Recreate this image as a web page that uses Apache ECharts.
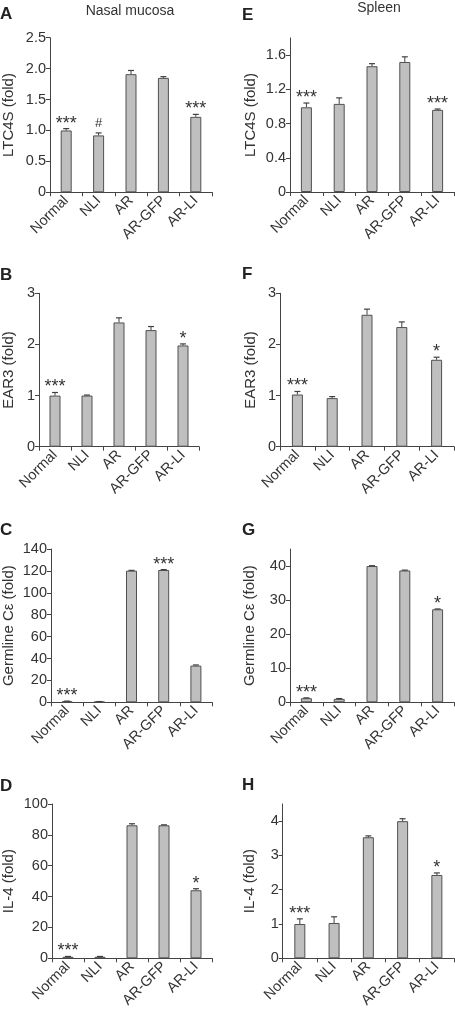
<!DOCTYPE html>
<html>
<head>
<meta charset="utf-8">
<script src="https://cdn.jsdelivr.net/npm/echarts@6/dist/echarts.min.js"></script>
<style>
html,body{margin:0;padding:0;background:#fff;}
#chart{width:455px;height:1011px;}
</style>
</head>
<body>
<div id="chart"></div>
<script>
// ---- data ----
const categories = ['Normal', 'NLI', 'AR', 'AR-GFP', 'AR-LI'];

// A: LTC4S, nasal mucosa
const ltc4sNasal = [1.00, 0.92, 1.91, 1.85, 1.22];
const ltc4sNasalErr = [0.03, 0.04, 0.06, 0.02, 0.04];
const ltc4sNasalSig = ['***', '#', '', '', '***'];
const ltc4sNasalTicks = [0, 0.5, 1.0, 1.5, 2.0, 2.5];

// E: LTC4S, spleen
const ltc4sSpleen = [0.99, 1.03, 1.47, 1.52, 0.96];
const ltc4sSpleenErr = [0.05, 0.07, 0.03, 0.06, 0.01];
const ltc4sSpleenSig = ['***', '', '', '', '***'];
const ltc4sSpleenTicks = [0, 0.4, 0.8, 1.2, 1.6];

// B: EAR3, nasal mucosa
const ear3Nasal = [1.00, 1.00, 2.43, 2.28, 1.98];
const ear3NasalErr = [0.06, 0.01, 0.09, 0.07, 0.03];
const ear3NasalSig = ['***', '', '', '', '*'];
const ear3NasalTicks = [0, 1, 2, 3];

// F: EAR3, spleen
const ear3Spleen = [1.02, 0.95, 2.58, 2.34, 1.70];
const ear3SpleenErr = [0.06, 0.03, 0.11, 0.10, 0.05];
const ear3SpleenSig = ['***', '', '', '', '*'];
const ear3SpleenTicks = [0, 1, 2, 3];

// C: Germline Cε, nasal mucosa
const germNasal = [0.8, 0.5, 120.2, 120.8, 33.5];
const germNasalErr = [0.3, 0.2, 0.3, 0.4, 0.6];
const germNasalSig = ['***', '', '', '***', ''];
const germNasalTicks = [0, 20, 40, 60, 80, 100, 120, 140];

// G: Germline Cε, spleen
const germSpleen = [1.2, 1.0, 40.0, 38.7, 27.3];
const germSpleenErr = [0.1, 0.1, 0.1, 0.1, 0.1];
const germSpleenSig = ['***', '', '', '', '*'];
const germSpleenTicks = [0, 10, 20, 30, 40];

// D: IL-4, nasal mucosa
const il4Nasal = [1.0, 1.0, 86.2, 86.2, 44.1];
const il4NasalErr = [0.2, 0.2, 1.0, 0.3, 1.0];
const il4NasalSig = ['***', '', '', '', '*'];
const il4NasalTicks = [0, 20, 40, 60, 80, 100];

// H: IL-4, spleen
const il4Spleen = [1.00, 1.03, 3.53, 4.00, 2.43];
const il4SpleenErr = [0.15, 0.18, 0.04, 0.07, 0.06];
const il4SpleenSig = ['***', '', '', '', '*'];
const il4SpleenTicks = [0, 1, 2, 3, 4];

// ---- layout ----
const FONT = '"Liberation Sans", Arial, Helvetica, sans-serif';
const TXT = '#333';
const AX = '#444';

const panels = [
  {letter: 'A', vals: ltc4sNasal, err: ltc4sNasalErr, sig: ltc4sNasalSig, ticks: ltc4sNasalTicks, max: 2.5, name: 'LTC4S (fold)', gap: 34, fmt: v => v === 0 ? '0' : v.toFixed(1),
   grid: {left: 50, top: 37.7, width: 162, height: 154.6}, lx: 0, ly: 16},
  {letter: 'E', vals: ltc4sSpleen, err: ltc4sSpleenErr, sig: ltc4sSpleenSig, ticks: ltc4sSpleenTicks, max: 1.8, name: 'LTC4S (fold)', gap: 32, fmt: v => v === 0 ? '0' : v.toFixed(1),
   grid: {left: 290, top: 38, width: 164, height: 154}, lx: 242, ly: 17},
  {letter: 'B', vals: ear3Nasal, err: ear3NasalErr, sig: ear3NasalSig, ticks: ear3NasalTicks, max: 3, name: 'EAR3 (fold)', gap: 23, fmt: v => String(v),
   grid: {left: 38, top: 293.3, width: 161, height: 153.4}, lx: 0, ly: 277},
  {letter: 'F', vals: ear3Spleen, err: ear3SpleenErr, sig: ear3SpleenSig, ticks: ear3SpleenTicks, max: 3, name: 'EAR3 (fold)', gap: 22, fmt: v => String(v),
   grid: {left: 280, top: 293.3, width: 174, height: 153.4}, lx: 242, ly: 276},
  {letter: 'C', vals: germNasal, err: germNasalErr, sig: germNasalSig, ticks: germNasalTicks, max: 140, name: 'Germline C\u03b5 (fold)', gap: 35, fmt: v => String(v),
   grid: {left: 50, top: 549, width: 162, height: 153.3}, lx: 0, ly: 532},
  {letter: 'G', vals: germSpleen, err: germSpleenErr, sig: germSpleenSig, ticks: germSpleenTicks, max: 45, name: 'Germline C\u03b5 (fold)', gap: 33, fmt: v => String(v),
   grid: {left: 290, top: 549, width: 164, height: 153.3}, lx: 242, ly: 531.5},
  {letter: 'D', vals: il4Nasal, err: il4NasalErr, sig: il4NasalSig, ticks: il4NasalTicks, max: 100, name: 'IL-4 (fold)', gap: 36, fmt: v => String(v),
   grid: {left: 50, top: 804, width: 162, height: 154.3}, lx: 0, ly: 787.5},
  {letter: 'H', vals: il4Spleen, err: il4SpleenErr, sig: il4SpleenSig, ticks: il4SpleenTicks, max: 4.5, name: 'IL-4 (fold)', gap: 25, fmt: v => String(v),
   grid: {left: 282.7, top: 804, width: 171.3, height: 154.3}, lx: 242, ly: 786.7}
];

const grids = [], xAxes = [], yAxes = [], series = [], graphics = [];

panels.forEach((p, i) => {
  grids.push(Object.assign({containLabel: false}, p.grid));
  xAxes.push({
    type: 'category', gridIndex: i, data: categories,
    axisLine: {lineStyle: {color: AX, width: 1}},
    axisTick: {show: true, length: 4, alignWithLabel: false, lineStyle: {color: AX}},
    axisLabel: {rotate: 45, interval: 0, margin: 6, fontSize: 14.5, color: TXT, fontFamily: FONT}
  });
  yAxes.push({
    type: 'value', gridIndex: i, min: 0, max: p.max,
    splitLine: {show: false},
    axisLine: {show: true, lineStyle: {color: AX, width: 1}},
    axisTick: {show: true, length: 4, lineStyle: {color: AX}, customValues: p.ticks},
    axisLabel: {fontSize: 14.5, color: TXT, fontFamily: FONT, margin: 4, customValues: p.ticks, formatter: p.fmt},
    name: p.name, nameLocation: 'middle', nameGap: p.gap, nameRotate: 90,
    nameTextStyle: {fontSize: 15, color: TXT, fontFamily: FONT}
  });
  series.push({
    type: 'bar', xAxisIndex: i, yAxisIndex: i, data: p.vals, barWidth: 11,
    itemStyle: {color: '#bfbfbf', borderColor: '#505050', borderWidth: 1},
    silent: true, z: 2
  });
  const sig = p.sig;
  series.push({
    type: 'custom', xAxisIndex: i, yAxisIndex: i,
    data: p.vals.map((v, k) => [k, v, p.err[k]]),
    z: 3, silent: true, clip: false,
    renderItem: function (params, api) {
      const x = api.value(0), v = api.value(1), e = api.value(2);
      const base = api.coord([x, v]);
      const top = api.coord([x, v + e]);
      const children = [
        {type: 'line', shape: {x1: base[0], y1: base[1], x2: top[0], y2: top[1]}, style: {stroke: '#404040', lineWidth: 1}},
        {type: 'line', shape: {x1: top[0] - 3, y1: top[1], x2: top[0] + 3, y2: top[1]}, style: {stroke: '#404040', lineWidth: 1.2}}
      ];
      const s = sig[params.dataIndex];
      if (s) {
        const star = s.charAt(0) === '*';
        children.push({
          type: 'text',
          style: {
            text: s, x: top[0], y: top[1] - (star ? 5 : 10),
            align: 'center', verticalAlign: 'middle',
            textAlign: 'center', textVerticalAlign: 'middle',
            font: (star ? '18px ' : '13px ') + FONT, fill: TXT
          }
        });
      }
      return {type: 'group', children: children};
    }
  });
  graphics.push({
    type: 'text', left: p.lx, top: p.ly - 10,
    style: {text: p.letter, font: 'bold 17px ' + FONT, fill: '#222'}
  });
});

graphics.push({type: 'text', x: 130, y: 11, style: {text: 'Nasal mucosa', font: '14px ' + FONT, fill: TXT, align: 'center', verticalAlign: 'middle', textAlign: 'center', textVerticalAlign: 'middle'}});
graphics.push({type: 'text', x: 379, y: 8, style: {text: 'Spleen', font: '14px ' + FONT, fill: TXT, align: 'center', verticalAlign: 'middle', textAlign: 'center', textVerticalAlign: 'middle'}});

const chart = echarts.init(document.getElementById('chart'), null, {renderer: 'canvas'});
chart.setOption({
  animation: false,
  backgroundColor: '#fff',
  textStyle: {fontFamily: FONT},
  grid: grids, xAxis: xAxes, yAxis: yAxes, series: series, graphic: graphics
});
</script>
</body>
</html>
